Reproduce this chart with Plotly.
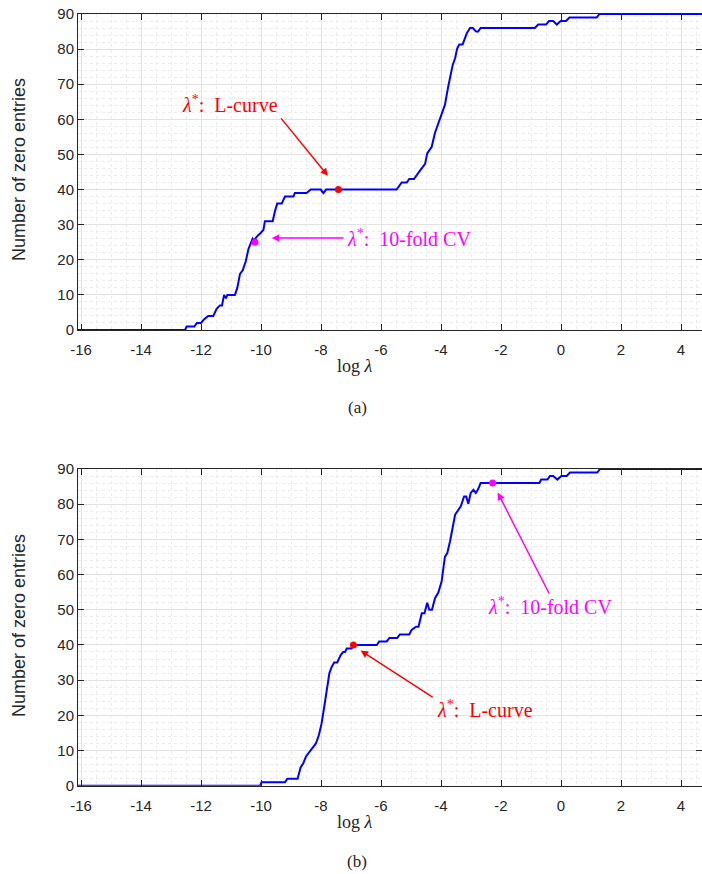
import plotly.graph_objects as go

# ---- data (a) ----
xa = [-16.1, -12.53, -12.48, -12.22, -12.14, -12.0, -11.9, -11.76, -11.59, -11.48,
      -11.37, -11.3, -11.23, -11.17, -11.12, -10.87, -10.79, -10.7, -10.61, -10.51,
      -10.42, -10.34, -10.28, -10.23, -10.14, -10.03, -9.92, -9.87, -9.61, -9.53,
      -9.46, -9.31, -9.2, -8.92, -8.87, -8.48, -8.34, -8.01, -7.92, -7.83,
      -5.48, -5.31, -5.14, -5.06, -4.9, -4.7, -4.53, -4.46, -4.31, -4.2,
      -4.03, -3.87, -3.76, -3.61, -3.53, -3.46, -3.39, -3.28, -3.14, -3.03,
      -2.94, -2.83, -2.76, -2.68, -0.87, -0.76, -0.5, -0.4, -0.26, -0.14,
      -0.01, 0.17, 0.28, 1.19, 1.28, 4.7]
ya = [0, 0, 1, 1, 2, 2, 3, 4, 4, 6,
      7, 7, 10, 9, 10, 10, 12, 16, 17, 19.5,
      23, 25, 26, 25.5, 26.6, 27.5, 28.5, 31, 31, 34,
      36, 36, 38, 38, 39, 39, 40, 40, 39, 40,
      40, 42, 42, 43, 43, 45.4, 47.3, 50.3, 52.2, 56.2,
      60.3, 64.1, 69.3, 75.5, 77.4, 80.2, 81.3, 81.3, 84.5, 86,
      86, 85, 85, 86, 86, 87, 87, 88, 88, 87,
      88, 88, 89, 89, 90, 90]

# ---- data (b) ----
xb = [-16.1, -10.03, -9.98, -9.2, -9.12, -8.78, -8.68, -8.59, -8.5, -8.37,
      -8.17, -8.07, -7.98, -7.9, -7.81, -7.72, -7.64, -7.56, -7.46, -7.34,
      -7.26, -7.2, -7.14, -6.98, -6.9, -6.14, -6.06, -5.81, -5.72, -5.46,
      -5.37, -5.06, -4.98, -4.83, -4.75, -4.64, -4.55, -4.46, -4.39, -4.3,
      -4.2, -4.09, -3.98, -3.87, -3.79, -3.7, -3.53, -3.42, -3.34, -3.23,
      -3.16, -3.09, -3.01, -2.92, -2.84, -2.76, -2.68, -0.72, -0.66, -0.45,
      -0.37, -0.26, -0.12, 0.01, 0.19, 0.3, 1.21, 1.3, 4.7]
yb = [0, 0, 1, 1, 2, 2, 5.2, 6.4, 8.3, 9.7,
      12, 14.4, 17.7, 22, 27.7, 32, 33.8, 35, 35, 37.2,
      38, 38, 39, 39, 40, 40, 41, 41, 42, 42,
      43, 43, 44.3, 45.2, 45.2, 49, 49, 52, 50, 50,
      53.3, 54.9, 58, 65, 66.1, 69.4, 77, 78.6, 79.4, 82.2,
      82.2, 80.1, 83.2, 84.1, 83.2, 84.3, 86, 86, 87, 87,
      88, 88, 87, 88, 88, 89, 89, 90, 90]

assert len(xa) == len(ya) and len(xb) == len(yb)

# selected points [x, y]
lcurve_a = [-7.42, 40]
cv_a = [-10.2, 25]
lcurve_b = [-6.92, 40]
cv_b = [-2.28, 86]

xtick_vals = [-16, -14, -12, -10, -8, -6, -4, -2, 0, 2, 4]
xtick_text = ["-16", "-14", "-12", "-10", "-8", "-6", "-4", "-2", "0", "2", "4"]
ytick_vals = [0, 10, 20, 30, 40, 50, 60, 70, 80, 90]

RED = "rgb(255,0,0)"
MAG = "rgb(255,0,255)"
BLUE = "rgb(0,0,255)"

fig = go.Figure()
for (xs, ys, lc, cv, xr, yr) in [(xa, ya, lcurve_a, cv_a, "x", "y"),
                                 (xb, yb, lcurve_b, cv_b, "x2", "y2")]:
    fig.add_trace(go.Scatter(x=xs, y=ys, mode="lines", line=dict(color=BLUE, width=2),
                             xaxis=xr, yaxis=yr, showlegend=False, hoverinfo="skip"))
    fig.add_trace(go.Scatter(x=[lc[0]], y=[lc[1]], mode="markers",
                             marker=dict(color=RED, size=7), xaxis=xr, yaxis=yr,
                             showlegend=False))
    fig.add_trace(go.Scatter(x=[cv[0]], y=[cv[1]], mode="markers",
                             marker=dict(color=MAG, size=7), xaxis=xr, yaxis=yr,
                             showlegend=False))

tickfont = dict(family="Liberation Sans, Arial, sans-serif", size=15, color="#262626")
xcommon = dict(range=[-16.1, 4.7], tickmode="array", tickvals=xtick_vals, ticktext=xtick_text,
               ticks="inside", ticklen=6, tickwidth=1, tickcolor="#262626",
               showline=True, linecolor="#262626", linewidth=1, mirror="ticks",
               showgrid=True, gridcolor="#e2e2e2", gridwidth=1, zeroline=False,
               tickfont=tickfont, automargin=False, ticklabelstandoff=6,
               minor=dict(dtick=0.5, showgrid=True, gridcolor="#ececec", griddash="dot", gridwidth=1),
               domain=[78 / 702, 1.0])
ycommon = dict(range=[0, 90], tickmode="array", tickvals=ytick_vals,
               ticks="inside", ticklen=6, tickwidth=1, tickcolor="#262626",
               showline=True, linecolor="#262626", linewidth=1, mirror="ticks",
               showgrid=True, gridcolor="#e2e2e2", gridwidth=1, zeroline=False,
               tickfont=tickfont, automargin=False,
               minor=dict(dtick=2, showgrid=True, gridcolor="#ececec", griddash="dot", gridwidth=1))

fig.update_layout(
    width=702, height=874, margin=dict(l=0, r=0, t=0, b=0, pad=0, autoexpand=False),
    paper_bgcolor="white", plot_bgcolor="white",
    xaxis=dict(**xcommon, anchor="y"),
    yaxis=dict(**ycommon, anchor="x", domain=[1 - 330 / 874, 1 - 14 / 874]),
    xaxis2=dict(**xcommon, anchor="y2"),
    yaxis2=dict(**ycommon, anchor="x2", domain=[1 - 785.7 / 874, 1 - 469 / 874]),
)

serif = "Liberation Serif, Times New Roman, serif"
sans = "Liberation Sans, Arial, sans-serif"
ann = []
# axis titles & captions
for yc, ylab, ycap, cap in [(1 - 170 / 874, 1 - 366 / 874, 1 - 407 / 874, "(a)"),
                            (1 - 626 / 874, 1 - 822 / 874, 1 - 861 / 874, "(b)")]:
    ann.append(dict(xref="paper", yref="paper", x=19 / 702, y=yc, text="Number of zero entries",
                    textangle=-90, showarrow=False, xanchor="center", yanchor="middle",
                    font=dict(family=sans, size=18, color="#262626")))
    ann.append(dict(xref="paper", yref="paper", x=355 / 702, y=ylab, text="log <i>λ</i>",
                    showarrow=False, xanchor="center", yanchor="middle",
                    font=dict(family=serif, size=18, color="#262626")))
    ann.append(dict(xref="paper", yref="paper", x=357 / 702, y=ycap, text=cap,
                    showarrow=False, xanchor="center", yanchor="middle",
                    font=dict(family=serif, size=17, color="#262626")))

lab_l = "<i>λ</i><sup>*</sup>:  L-curve"
lab_cv = "<i>λ</i><sup>*</sup>:  10-fold CV"

def arrow(xr, yr, head, tail, color):
    return dict(xref=xr, yref=yr, axref=xr, ayref=yr, x=head[0], y=head[1],
                ax=tail[0], ay=tail[1], text="", showarrow=True, arrowhead=2,
                arrowsize=1, arrowwidth=1.5, arrowcolor=color, standoff=0, startstandoff=0)

def label(xr, yr, pos, text, color, xanchor="center"):
    return dict(xref=xr, yref=yr, x=pos[0], y=pos[1], text=text, showarrow=False,
                xanchor=xanchor, yanchor="middle", font=dict(family=serif, size=20, color=color))

# top panel
ann.append(arrow("x", "y", [-7.77, 43.9], [-9.37, 60.7], RED))
ann.append(label("x", "y", [-11.03, 64.4], lab_l, RED))
ann.append(arrow("x", "y", [-9.64, 26.2], [-7.2, 26.2], MAG))
ann.append(label("x", "y", [-7.2, 26.2], lab_cv, MAG, xanchor="left"))
# bottom panel
ann.append(arrow("x2", "y2", [-2.11, 83.3], [-0.37, 54.2], MAG))
ann.append(label("x2", "y2", [-0.37, 51.1], lab_cv, MAG))
ann.append(arrow("x2", "y2", [-6.68, 38.4], [-4.23, 24.9], RED))
ann.append(label("x2", "y2", [-4.2, 21.8], lab_l, RED, xanchor="left"))

fig.update_layout(annotations=ann)
fig.write_html("out.html")
